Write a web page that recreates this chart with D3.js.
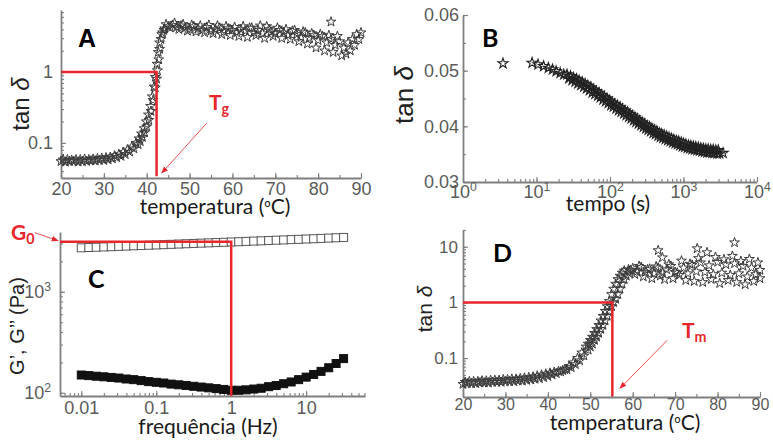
<!DOCTYPE html>
<html><head><meta charset="utf-8">
<script src="https://cdn.jsdelivr.net/npm/d3@7"></script>
<style>body{margin:0;background:#fff}svg{display:block;background:#fff}</style>
</head><body><svg id="c" width="773" height="440"></svg>
<script>
// ---------- DATA ----------
// Panel A : tan delta vs temperatura (two runs)
const aRun1 = [[20,0.055],[21,0.054],[22,0.055],[23,0.055],[24,0.054],[25,0.055],[26,0.055],[27,0.056],[28,0.056],[29,0.057],[30,0.057],[31,0.058],[32,0.06],[33,0.062],[34,0.065],[35,0.069],[36,0.075],[37,0.083],[38,0.095],[38.5,0.105],[39,0.12],[39.5,0.14],[40,0.17],[40.5,0.21],[41,0.28],[41.5,0.4],[42,0.6],[42.3,0.8],[42.5,1.05],[42.8,1.5],[43,2.1],[43.3,2.9],[43.7,3.6],[44.2,4.1],[45,4.4],[46,4.6],[47,4.3],[48,4.5],[49,4.2],[50,4.0],[51,4.4],[52,4.1],[53,3.9],[54,4.3],[55,3.8],[56,4.0],[57,4.2],[58,3.7],[59,4.1],[60,3.9],[61,3.6],[62,4.0],[63,3.8],[64,4.2],[65,3.6],[66,3.9],[67,3.5],[68,4.4],[69,3.7],[70,3.5],[71,3.9],[72,3.6],[73,3.3],[74,3.8],[75,3.4],[76,3.1],[77,3.6],[78,3.0],[79,3.3],[80,2.8],[81,3.2],[82,2.6],[83,2.9],[84,2.4],[85,2.7],[86,2.2],[87,2.6],[88,2.9],[89,3.4],[90,3.6]];
const aRun2 = [[20.5,0.058],[21.5,0.058],[22.5,0.057],[23.5,0.058],[24.5,0.058],[25.5,0.059],[26.5,0.058],[27.5,0.059],[28.5,0.06],[29.5,0.061],[30.5,0.062],[31.5,0.063],[32.5,0.066],[33.5,0.069],[34.5,0.074],[35.5,0.08],[36.5,0.088],[37.5,0.1],[38.2,0.115],[38.8,0.135],[39.4,0.16],[39.9,0.2],[40.4,0.25],[40.9,0.33],[41.3,0.45],[41.7,0.62],[42.0,0.85],[42.4,1.3],[42.7,1.9],[43.0,2.6],[43.5,3.4],[44,3.9],[44.5,4.7],[45.5,4.2],[46.5,4.9],[47.5,4.0],[48.5,4.7],[49.5,3.8],[50.5,4.6],[51.5,3.7],[52.5,4.5],[53.5,3.6],[54.5,4.6],[55.5,3.5],[56.5,4.5],[57.5,3.4],[58.5,4.4],[59.5,3.3],[60.5,4.3],[61.5,3.2],[62.5,4.4],[63.5,3.1],[64.5,4.2],[65.5,3.3],[66.5,4.5],[67.5,3.0],[68.5,4.0],[69.5,3.2],[70.5,4.2],[71.5,3.0],[72.5,4.0],[73.5,2.9],[74.5,3.9],[75.5,2.7],[76.5,3.7],[77.5,2.5],[78.5,3.5],[79.5,2.2],[80.5,3.4],[81.5,2.0],[82.5,3.3],[83,5.1],[83.5,1.9],[84.5,3.2],[85.5,1.7],[86.5,1.8],[87.5,2.0],[88.5,2.4],[89.5,2.9]];
const aTg = 42.3;
const aXTicks = [20,30,40,50,60,70,80,90];
const aYTicks = [0.1,1];

// Panel B : tan delta vs tempo (s)
const bRun1 = [[3.5,0.0513],[8.7,0.0514],[10.5,0.0511],[12.5,0.0508],[14.5,0.0505],[16.5,0.0502],[18.5,0.0499],[21,0.0496],[23.5,0.0493],[26,0.0493],[29,0.049],[32,0.0487],[35,0.0485],[38,0.0482],[42,0.0479],[46,0.0476],[50,0.0473],[55,0.047],[60,0.0466],[65,0.0463],[71,0.046],[77,0.0456],[84,0.0453],[91,0.045],[99,0.0446],[107,0.0443],[116,0.044],[126,0.0437],[137,0.0434],[148,0.0431],[160,0.0428],[173,0.0425],[187,0.0422],[202,0.0419],[218,0.0416],[235,0.0413],[254,0.041],[274,0.0407],[296,0.0404],[320,0.0401],[345,0.0399],[372,0.0396],[402,0.0393],[434,0.0391],[468,0.0388],[505,0.0386],[545,0.0384],[588,0.0382],[635,0.038],[685,0.0378],[740,0.0376],[800,0.0374],[860,0.0373],[930,0.0371],[1000,0.0369],[1080,0.0368],[1170,0.0366],[1260,0.0365],[1360,0.0364],[1470,0.0363],[1590,0.0362],[1720,0.0361],[1860,0.036],[2010,0.0359],[2170,0.0359],[2350,0.0358],[2540,0.0358],[2750,0.0357],[2970,0.0357]];
const bRun2 = [[27.5,0.0486],[30.5,0.0483],[33.5,0.048],[36.5,0.0477],[40,0.0474],[44,0.0471],[48,0.0468],[52.5,0.0465],[57.5,0.0461],[62.5,0.0458],[68,0.0455],[74,0.0452],[80.5,0.0448],[87.5,0.0445],[95,0.0442],[103,0.0438],[111,0.0435],[121,0.0432],[131,0.0429],[142,0.0426],[154,0.0423],[166,0.042],[180,0.0417],[194,0.0414],[210,0.0411],[226,0.0408],[244,0.0405],[264,0.0402],[285,0.0399],[308,0.0396],[332,0.0394],[358,0.0391],[387,0.0388],[418,0.0386],[451,0.0383],[486,0.0381],[525,0.0379],[566,0.0377],[611,0.0375],[660,0.0373],[712,0.0371],[770,0.0369],[830,0.0368],[895,0.0366],[965,0.0364],[1040,0.0363],[1125,0.0361],[1215,0.036],[1310,0.0359],[1415,0.0358],[1530,0.0357],[1655,0.0356],[1790,0.0355],[1935,0.0354],[2090,0.0353],[2260,0.0353],[2445,0.0352],[2640,0.0352],[2860,0.0351],[3100,0.0351],[3450,0.0352]];
const bXTicks = [1,10,100,1000,10000];
const bYTicks = [0.03,0.04,0.05,0.06];

// Panel C : G', G'' vs frequencia (Hz)
const cFreq = [0.01,0.0126,0.0158,0.02,0.0251,0.0316,0.0398,0.0501,0.0631,0.0794,0.1,0.126,0.158,0.2,0.251,0.316,0.398,0.501,0.631,0.794,1,1.26,1.58,2,2.51,3.16,3.98,5.01,6.31,7.94,10,12.6,15.8,20,25.1,31.6];
const cGp  = [2720,2740,2755,2775,2790,2810,2830,2850,2865,2885,2905,2925,2945,2965,2985,3005,3025,3045,3065,3085,3105,3125,3150,3170,3190,3210,3235,3255,3280,3300,3325,3345,3370,3395,3420,3445];
const cGpp = [150,148,146,144,142,140,137,135,132,129,127,125,122,120,118,116,114,112,110,108,106,106,107,109,111,115,118,123,128,135,143,152,163,177,195,218];
const cG0 = 3125, cG0Freq = 1;
const cXTicks = [0.01,0.1,1,10];
const cYTicks = [100,1000];

// Panel D : tan delta vs temperatura (two runs)
const dRun1 = [[20,0.034],[21,0.035],[22,0.035],[23,0.035],[24,0.036],[25,0.036],[26,0.036],[27,0.037],[28,0.037],[29,0.037],[30,0.038],[31,0.038],[32,0.038],[33,0.039],[34,0.039],[35,0.04],[36,0.041],[37,0.042],[38,0.043],[39,0.045],[40,0.047],[41,0.05],[42,0.053],[43,0.057],[44,0.062],[45,0.071],[46,0.083],[47,0.1],[48,0.125],[49,0.16],[49.5,0.18],[50,0.21],[50.5,0.24],[51,0.28],[51.5,0.33],[52,0.39],[52.5,0.47],[53,0.57],[53.5,0.7],[54,0.85],[54.5,1.05],[55,1.4],[55.5,1.75],[56,2.15],[56.5,2.6],[57,3.0],[57.5,3.4],[58,3.7],[59,3.9],[60,4.1],[61,3.6],[62,4.3],[63,3.5],[64,4.0],[65,3.3],[66,4.2],[67,3.4],[68,3.9],[69,4.5],[70,3.5],[71,3.1],[72,4.2],[73,3.3],[74,4.7],[75,3.6],[76,5.2],[77,3.5],[78,4.6],[79,3.2],[80,5.3],[81,3.4],[82,4.8],[83,3.1],[84,5.0],[85,3.3],[86,4.5],[87,2.9],[88,4.2],[89,3.2],[90,3.8]];
const dRun2 = [[20.5,0.037],[21.5,0.038],[22.5,0.038],[23.5,0.038],[24.5,0.039],[25.5,0.039],[26.5,0.04],[27.5,0.04],[28.5,0.04],[29.5,0.041],[30.5,0.041],[31.5,0.042],[32.5,0.042],[33.5,0.043],[34.5,0.044],[35.5,0.045],[36.5,0.046],[37.5,0.048],[38.5,0.05],[39.5,0.052],[40.5,0.054],[41.5,0.056],[42.5,0.058],[43.5,0.06],[44.5,0.063],[45.5,0.068],[46.5,0.077],[47.5,0.09],[48.5,0.11],[49.5,0.14],[50,0.16],[50.5,0.18],[51,0.21],[51.5,0.24],[52,0.28],[52.5,0.33],[53,0.39],[53.5,0.47],[54,0.57],[54.5,0.7],[55,0.85],[55.5,1.0],[56,1.15],[56.5,1.4],[57,1.75],[57.5,2.15],[58,2.6],[58.5,3.0],[59,3.4],[59.5,3.8],[60.5,3.2],[61.5,4.5],[62.5,2.9],[63.5,3.9],[64.5,2.7],[65.5,4.4],[66,8.6],[66.5,3.0],[67,6.4],[67.5,2.6],[68.5,4.8],[69.5,2.7],[70.5,3.4],[71.5,5.6],[72.5,2.5],[73.5,4.9],[74.5,2.4],[75.2,9.3],[75.5,6.2],[76.5,2.3],[77.5,7.9],[78.5,2.6],[79.5,6.5],[80.5,2.2],[81.5,5.9],[82.5,2.5],[83.5,6.8],[84,11.9],[84.5,2.3],[85.5,5.5],[86.5,2.1],[87.5,6.0],[88.5,2.4],[89.5,5.2],[90,2.7]];
const dTm = 55.2;
const dXTicks = [20,30,40,50,60,70,80,90];
const dYTicks = [0.1,1,10];

// ---------- DRAWING ----------
const svg = d3.select("#c");
const AX = "#7f7f7f", LAB = "#5b5b5b", RED = "#e8262b", STAR = "#3a3a3a";
const SANS = "'Liberation Sans', Arial, sans-serif";
const CAL = "Lato, 'Open Sans', sans-serif";

svg.append("defs").append("marker").attr("id","arr").attr("viewBox","0 0 10 10")
  .attr("refX",9).attr("refY",5).attr("markerWidth",7).attr("markerHeight",7)
  .attr("markerUnits","userSpaceOnUse").attr("orient","auto")
  .append("path").attr("d","M0,1L10,5L0,9Z").attr("fill",RED);

function axes(x, y, o) {
  const g = svg.append("g");
  const y0 = y.range()[0], x0 = x.range()[0];
  g.append("g").attr("class","xa").attr("transform",`translate(0,${y0})`)
    .call(d3.axisBottom(x).tickValues(o.xTicks).tickFormat(o.xFmt).tickSize(-5).tickSizeOuter(0).tickPadding(o.xPad));
  g.append("g").attr("transform",`translate(0,${y0})`)
    .call(d3.axisBottom(x).tickValues(o.xMinor).tickFormat("").tickSize(-3).tickSizeOuter(0))
    .call(s => s.select(".domain").remove());
  g.append("g").attr("class","ya").attr("transform",`translate(${x0},0)`)
    .call(d3.axisLeft(y).tickValues(o.yTicks).tickFormat(o.yFmt).tickSize(-5).tickSizeOuter(0).tickPadding(o.yPad));
  g.append("g").attr("transform",`translate(${x0},0)`)
    .call(d3.axisLeft(y).tickValues(o.yMinor).tickFormat("").tickSize(-3).tickSizeOuter(0))
    .call(s => s.select(".domain").remove());
  g.selectAll(".domain").attr("stroke",AX).attr("stroke-width",1.8);
  g.selectAll(".tick line").attr("stroke",AX).attr("stroke-width",1.1);
  g.selectAll(".tick text").attr("fill",LAB).attr("font-family",SANS).attr("font-size",o.fs);
  if (o.xfs) g.select(".xa").selectAll(".tick text").attr("font-size",o.xfs);
  return g;
}
function sup(sel) {
  sel.selectAll(".tick text").each(function(d) {
    const t = d3.select(this);
    t.text(null);
    t.append("tspan").text("10");
    t.append("tspan").attr("dy","-0.55em").attr("font-size","0.68em").text(Math.round(Math.log10(d)));
  });
}
function stars(data, x, y, size = 30, col = STAR, sw = 1) {
  const p = d3.symbol().type(d3.symbolStar).size(size)();
  svg.append("g").selectAll("path").data(data).join("path")
    .attr("d", p).attr("transform", d => `translate(${x(d[0])},${y(d[1])})`)
    .attr("fill","none").attr("stroke",col).attr("stroke-width",sw);
}
function label(x, y, txt, size, opts = {}) {
  return svg.append("text").attr("x",x).attr("y",y).attr("font-size",size)
    .attr("font-family",opts.family || CAL).attr("font-weight",opts.weight || "normal")
    .attr("fill",opts.fill || "#1a1a1a").attr("text-anchor",opts.anchor || "start").text(txt);
}
function tempTitle(x, y) {
  const t = svg.append("text").attr("x",x).attr("y",y).attr("font-size",21).attr("font-family",CAL)
    .attr("fill","#1a1a1a").attr("text-anchor","middle");
  t.append("tspan").text("temperatura (");
  t.append("tspan").attr("font-family","'Noto Sans', 'DejaVu Sans', sans-serif").attr("font-size",17).text("º");
  t.append("tspan").text("C)");
}
function tanLabel(cx, cy, size) {
  const t = svg.append("text").attr("transform",`translate(${cx},${cy}) rotate(-90)`)
    .attr("text-anchor","middle").attr("font-family",SANS).attr("font-size",size).attr("fill","#222");
  t.append("tspan").text("tan ");
  t.append("tspan").attr("font-style","italic").text("δ");
}
function sub(x, y, main, s, size) {
  const t = svg.append("text").attr("x",x).attr("y",y).attr("font-family",CAL).attr("font-weight","bold")
    .attr("font-size",size).attr("fill",RED);
  t.append("tspan").text(main);
  t.append("tspan").attr("dy","0.3em").attr("font-size",size*0.68).text(s);
}

// ---- Panel A ----
const xA = d3.scaleLinear([20,90],[61,361]);
const yA = d3.scaleLog([0.032,7.5],[178,10]);
axes(xA, yA, {xTicks:aXTicks, xFmt:d3.format("d"), xPad:4, xMinor:xA.ticks(14),
  yTicks:aYTicks, yFmt:d3.format("~g"), yPad:8, yMinor:yA.ticks(), fs:18});
stars(aRun1, xA, yA);
stars(aRun2, xA, yA);
svg.append("path").attr("d",`M${xA(20)},${yA(1)}H${xA(aTg)}V${yA(0.034)}`)
  .attr("fill","none").attr("stroke",RED).attr("stroke-width",2.5);
svg.append("line").attr("x1",xA(54)).attr("y1",yA(0.19)).attr("x2",xA(43.5)).attr("y2",yA(0.0376))
  .attr("stroke",RED).attr("stroke-width",0.8).attr("marker-end","url(#arr)");
sub(209, 110, "T", "g", 21);
label(78, 47, "A", 25, {family:SANS, weight:"bold", fill:"#000"});
tanLabel(29, 104, 24);
tempTitle(215, 214);

// ---- Panel B ----
const xB = d3.scaleLog([1,10000],[463,757]);
const yB = d3.scaleLinear([0.03,0.06],[182,15]);
const gB = axes(xB, yB, {xTicks:bXTicks, xFmt:d3.format("d"), xPad:3, xMinor:xB.ticks(),
  yTicks:bYTicks, yFmt:d3.format(".2f"), yPad:4, yMinor:yB.ticks(6), fs:18});
sup(gB.select(".xa"));
stars(bRun1, xB, yB, 32, "#222", 1.1);
stars(bRun2, xB, yB, 32, "#222", 1.1);
label(482, 47, "B", 25, {weight:"bold", fill:"#000"});
tanLabel(413, 95, 26);
label(608, 211, "tempo (s)", 21, {anchor:"middle"});

// ---- Panel C ----
const xC = d3.scaleLog([0.0052,61],[60,365]);
const yC = d3.scaleLog([93,3900],[396,232]);
const gC = axes(xC, yC, {xTicks:cXTicks, xFmt:d3.format("~g"), xPad:5, xMinor:xC.ticks(),
  yTicks:cYTicks, yFmt:d3.format("d"), yPad:9, yMinor:yC.ticks(), fs:18});
sup(gC.select(".ya"));
const sq = 8;
svg.append("g").selectAll("rect").data(cFreq).join("rect")
  .attr("x", (f) => xC(f) - sq/2).attr("y", (f, i) => yC(cGp[i]) - sq/2)
  .attr("width", sq).attr("height", sq).attr("fill","#fff").attr("stroke","#555").attr("stroke-width",1);
svg.append("g").selectAll("rect").data(cFreq).join("rect")
  .attr("x", (f) => xC(f) - sq/2).attr("y", (f, i) => yC(cGpp[i]) - sq/2)
  .attr("width", sq).attr("height", sq).attr("fill","#111").attr("stroke","#111").attr("stroke-width",1);
svg.append("path").attr("d",`M${xC(0.0052)},${yC(cG0)}H${xC(cG0Freq)}V${yC(93)}`)
  .attr("fill","none").attr("stroke",RED).attr("stroke-width",2.5);
svg.append("line").attr("x1",xC(0.0024)).attr("y1",yC(3840)).attr("x2",xC(0.0049)).attr("y2",yC(3200))
  .attr("stroke",RED).attr("stroke-width",0.8).attr("marker-end","url(#arr)");
sub(11, 240, "G", "0", 21);
label(88, 288, "C", 25, {weight:"bold", fill:"#000"});
svg.append("text").attr("transform","translate(24,326) rotate(-90)")
  .attr("text-anchor","middle").attr("font-family",SANS).attr("font-size",20).attr("fill","#222")
  .text("G’, G’’ (Pa)");
label(208, 434, "frequência (Hz)", 21, {anchor:"middle"});

// ---- Panel D ----
const xD = d3.scaleLinear([20,90],[463,760]);
const yD = d3.scaleLog([0.02,20],[397,230]);
axes(xD, yD, {xTicks:dXTicks, xFmt:d3.format("d"), xPad:2, xMinor:xD.ticks(14),
  yTicks:dYTicks, yFmt:d3.format("~g"), yPad:5, yMinor:yD.ticks(), fs:17, xfs:16});
stars(dRun1, xD, yD);
stars(dRun2, xD, yD);
svg.append("path").attr("d",`M${xD(20)},${yD(1)}H${xD(dTm)}V${yD(0.0205)}`)
  .attr("fill","none").attr("stroke",RED).attr("stroke-width",2.5);
svg.append("line").attr("x1",xD(68.1)).attr("y1",yD(0.208)).attr("x2",xD(57)).attr("y2",yD(0.0286))
  .attr("stroke",RED).attr("stroke-width",0.8).attr("marker-end","url(#arr)");
sub(682, 338, "T", "m", 21);
label(493, 262, "D", 25, {weight:"bold", fill:"#000"});
tanLabel(432, 309, 21);
tempTitle(625, 430);
</script></body></html>
